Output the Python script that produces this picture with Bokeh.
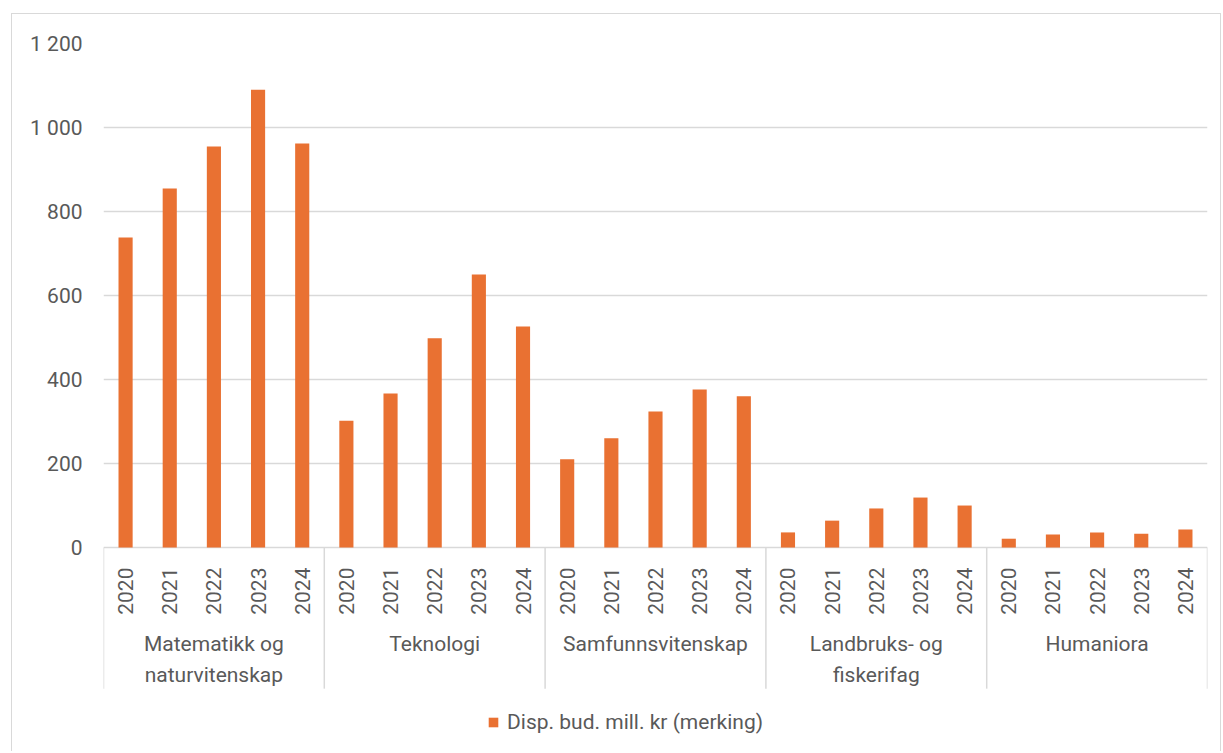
import math
from bokeh.plotting import figure
from bokeh.models import (FactorRange, FixedTicker, Legend, LegendItem, ColumnDataSource, Range1d)
from bokeh.core.properties import value
from bokeh.embed import file_html
from bokeh.resources import INLINE

# ---- data ----
categories = ["Matematikk og\nnaturvitenskap", "Teknologi", "Samfunnsvitenskap",
              "Landbruks- og\nfiskerifag", "Humaniora"]
years = ["2020", "2021", "2022", "2023", "2024"]
mat = [738, 855, 955, 1090, 962]
tek = [302, 367, 498, 650, 526]
sam = [210, 260, 324, 376, 360]
land = [36, 64, 93, 119, 100]
hum = [21, 31, 36, 33, 43]
series_name = "Disp. bud. mill. kr (merking)"
y_ticks = [0, 200, 400, 600, 800, 1000, 1200]
y_tick_labels = ["0", "200", "400", "600", "800", "1 000", "1 200"]

values = [mat, tek, sam, land, hum]
factors = [(c, y) for c in categories for y in years]
tops = [v for series in values for v in series]

FONT = "Roboto"
FS = "21px"
TXT = "#595959"
GRID = "#d9d9d9"
ORANGE = "#E97132"
Y_MIN = -488      # frame extends below zero to hold the category labels
SEP_END = -336    # how far the group separators reach

x_range = FactorRange(*factors, range_padding=0, group_padding=0, factor_padding=0)
p = figure(x_range=x_range, y_range=Range1d(Y_MIN, 1200), width=1210, height=738,
           output_backend="svg", toolbar_location=None, x_axis_location=None,
           min_border_left=91, min_border_top=29, min_border_right=15, min_border_bottom=0)
p.margin = (13, 0, 0, 11)
p.styles = {"border-left": "1px solid #d9d9d9", "border-top": "1px solid #d9d9d9",
            "border-right": "1px solid #d9d9d9"}
p.outline_line_color = None
p.background_fill_color = "white"
p.border_fill_color = "white"

src = ColumnDataSource(dict(x=factors, top=tops))
r = p.vbar(x="x", top="top", width=0.32, source=src, fill_color=ORANGE, line_color=None)

# y axis
p.yaxis.ticker = FixedTicker(ticks=y_ticks)
p.yaxis.major_label_overrides = {t: l for t, l in zip(y_ticks, y_tick_labels)}
p.yaxis.axis_line_color = None
p.yaxis.major_tick_line_color = None
p.yaxis.minor_tick_line_color = None
p.yaxis.major_tick_out = 0
p.yaxis.major_label_standoff = 21
p.yaxis.major_label_text_font = FONT
p.yaxis.major_label_text_font_size = FS
p.yaxis.major_label_text_color = TXT
p.ygrid.ticker = FixedTicker(ticks=y_ticks)
p.ygrid.grid_line_color = GRID
p.ygrid.grid_line_width = 1.5
p.xgrid.visible = False

# year labels (inner category level), rotated
p.text(x=factors, y=[0] * len(factors), text=[f[1] for f in factors],
       angle=math.pi / 2, text_align="right", text_baseline="middle",
       y_offset=20, text_font=value(FONT), text_font_size=value(FS), text_color=TXT)

# group labels
grp_x = [(c, years[len(years) // 2]) for c in categories]
p.text(x=grp_x, y=[0] * len(grp_x), text=categories,
       text_align="center", text_baseline="top", y_offset=84, line_height=1.3,
       text_font=value(FONT), text_font_size=value(FS), text_color=TXT)

# group separators
sep_x = [(c, years[0], -0.5) for c in categories] + [(categories[-1], years[-1], 0.5)]
p.segment(x0=sep_x, x1=sep_x, y0=[0] * len(sep_x), y1=[SEP_END] * len(sep_x),
          line_color=GRID, line_width=1.5)

legend = Legend(items=[LegendItem(label=series_name, renderers=[r])],
                orientation="horizontal", location=(384, 18),
                border_line_color=None, background_fill_alpha=0,
                label_text_font=FONT, label_text_font_size=FS,
                label_text_color=TXT, glyph_width=12, glyph_height=12,
                padding=0, margin=0, label_standoff=8)
p.add_layout(legend)

open("out.html", "w").write(file_html(p, INLINE))
